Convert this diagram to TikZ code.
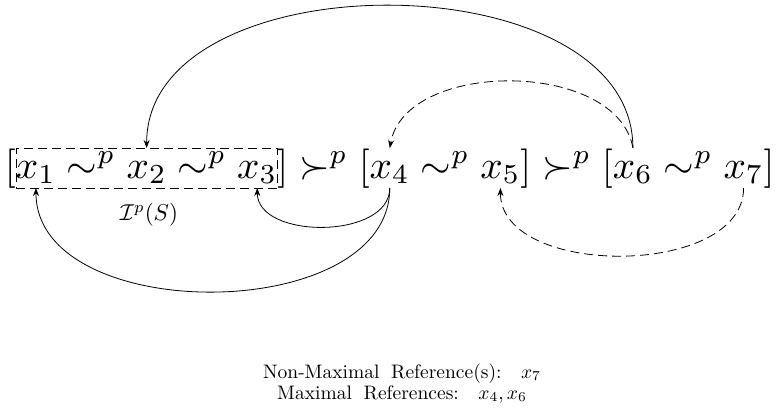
\documentclass[tikz,border=0pt]{standalone}
\usepackage{graphicx}
\usetikzlibrary{arrows.meta,fit}
\newcommand{\fm}[1]{\scalebox{3.93}{$#1$}}
\newcommand{\sm}[1]{\scalebox{1.95}{#1}}
\begin{document}
\begin{tikzpicture}[x=1pt,y=-1pt,
  f/.style={inner sep=0pt,outer sep=0pt,anchor=base west},
  xv/.style={f,text height=30pt,text depth=10pt},
  arr/.style={line width=0.8pt,-{Stealth[length=8pt,width=6pt]}},
  dsh/.style={dash pattern=on 9pt off 5pt}]
\useasboundingbox (0,0) rectangle (779,408);
\node[f] (lb1) at (5,178) {\fm{[}};
\node[xv] (x1) at (lb1.base east) {\fm{x_1}};
\node[f] (r1) at (x1.base east) {\fm{\;\sim^p\;}};
\node[xv] (x2) at (r1.base east) {\fm{x_2}};
\node[f] (r2) at (x2.base east) {\fm{\;\sim^p\;}};
\node[xv] (x3) at (r2.base east) {\fm{x_3}};
\node[f] (rb1) at (x3.base east) {\fm{]}};
\node[f] (r3) at (rb1.base east) {\fm{\;\succ^p\;}};
\node[f] (lb2) at (r3.base east) {\fm{[}};
\node[xv] (x4) at (lb2.base east) {\fm{x_4}};
\node[f] (r4) at (x4.base east) {\fm{\;\sim^p\;}};
\node[xv] (x5) at (r4.base east) {\fm{x_5}};
\node[f] (rb2) at (x5.base east) {\fm{]}};
\node[f] (r5) at (rb2.base east) {\fm{\;\succ^p\;}};
\node[f] (lb3) at (r5.base east) {\fm{[}};
\node[xv] (x6) at (lb3.base east) {\fm{x_6}};
\node[f] (r6) at (x6.base east) {\fm{\;\sim^p\;}};
\node[xv] (x7) at (r6.base east) {\fm{x_7}};
\node[f] (rb3) at (x7.base east) {\fm{]}};
\node[draw,dsh,line width=0.8pt,fit=(x1)(x3),inner sep=0pt] (box) {};
\node (lab) at (149,215) {\scalebox{2.3}{$\mathcal{I}^p(S)$}};
\node[anchor=base] (t1) at (402,378) {\sm{Non-Maximal\hspace{0.6em}Reference(s):\hspace{1em}$x_7$}};
\node[anchor=base] (t2) at (402,399) {\sm{Maximal\hspace{0.6em}References:\hspace{1em}$x_4,x_6$}};
\draw[arr] (x6.north) to[out=90,in=90,looseness=1.0] (x2.north);
\draw[arr,dsh] (x6.north) to[out=100,in=80,looseness=0.95] (x4.north);
\draw[arr] (x4.south) to[out=-90,in=-90,looseness=1.0] (x3.south);
\draw[arr] (x4.south) to[out=-90,in=-90,looseness=1.0] (x1.south);
\draw[arr,dsh] (x7.south) to[out=-90,in=-90,looseness=0.95] (x5.south);
\end{tikzpicture}
\end{document}
